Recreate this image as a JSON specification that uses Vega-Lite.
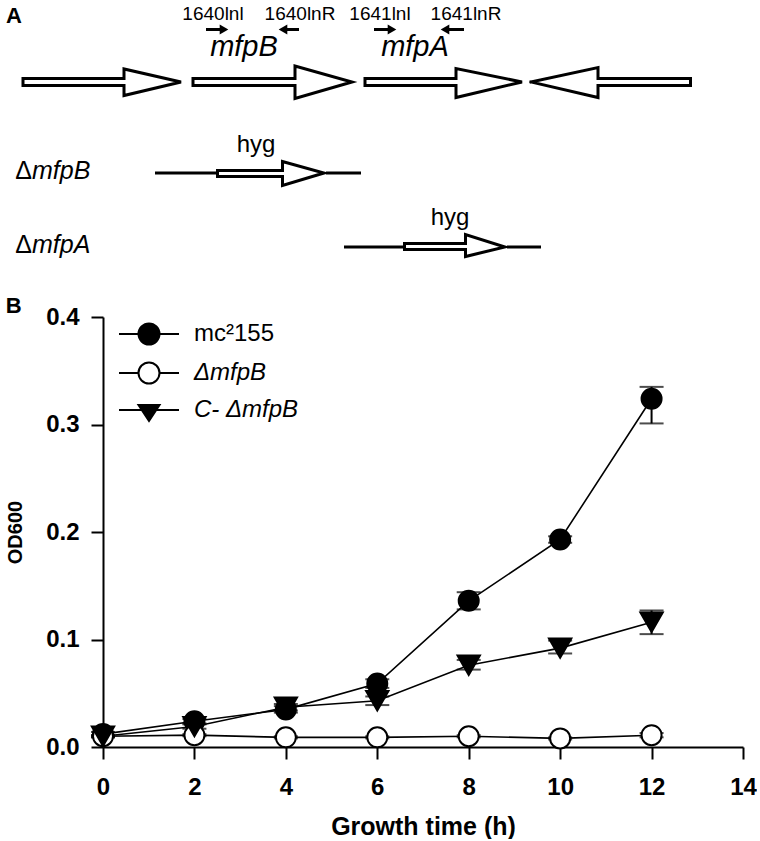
{
  "$schema": "https://vega.github.io/schema/vega-lite/v6.json",
  "padding": {"left": 5, "top": 0, "right": 0, "bottom": 0},
  "spacing": 15,
  "background": "white",
  "datasets": {
    "genes": [
      {"gene": "g1", "o": 1, "x": 200, "y": 7.85}, {"gene": "g1", "o": 2, "x": 1210, "y": 7.85}, {"gene": "g1", "o": 3, "x": 1210, "y": 6.9}, {"gene": "g1", "o": 4, "x": 1780, "y": 8.2}, {"gene": "g1", "o": 5, "x": 1210, "y": 9.55}, {"gene": "g1", "o": 6, "x": 1210, "y": 8.55}, {"gene": "g1", "o": 7, "x": 200, "y": 8.55}, {"gene": "g1", "o": 8, "x": 200, "y": 7.85},
      {"gene": "mfpB", "o": 1, "x": 1900, "y": 7.85}, {"gene": "mfpB", "o": 2, "x": 2920, "y": 7.85}, {"gene": "mfpB", "o": 3, "x": 2920, "y": 6.6}, {"gene": "mfpB", "o": 4, "x": 3490, "y": 8.2}, {"gene": "mfpB", "o": 5, "x": 2920, "y": 9.85}, {"gene": "mfpB", "o": 6, "x": 2920, "y": 8.55}, {"gene": "mfpB", "o": 7, "x": 1900, "y": 8.55}, {"gene": "mfpB", "o": 8, "x": 1900, "y": 7.85},
      {"gene": "mfpA", "o": 1, "x": 3620, "y": 7.85}, {"gene": "mfpA", "o": 2, "x": 4530, "y": 7.85}, {"gene": "mfpA", "o": 3, "x": 4530, "y": 6.85}, {"gene": "mfpA", "o": 4, "x": 5190, "y": 8.2}, {"gene": "mfpA", "o": 5, "x": 4530, "y": 9.75}, {"gene": "mfpA", "o": 6, "x": 4530, "y": 8.55}, {"gene": "mfpA", "o": 7, "x": 3620, "y": 8.55}, {"gene": "mfpA", "o": 8, "x": 3620, "y": 7.85},
      {"gene": "g4", "o": 1, "x": 5280, "y": 8.2}, {"gene": "g4", "o": 2, "x": 5950, "y": 6.75}, {"gene": "g4", "o": 3, "x": 5950, "y": 7.85}, {"gene": "g4", "o": 4, "x": 6875, "y": 7.85}, {"gene": "g4", "o": 5, "x": 6875, "y": 8.55}, {"gene": "g4", "o": 6, "x": 5950, "y": 8.55}, {"gene": "g4", "o": 7, "x": 5950, "y": 9.75}, {"gene": "g4", "o": 8, "x": 5280, "y": 8.2},
      {"gene": "hygB", "o": 1, "x": 2145, "y": 17.05}, {"gene": "hygB", "o": 2, "x": 2795, "y": 17.05}, {"gene": "hygB", "o": 3, "x": 2795, "y": 16.15}, {"gene": "hygB", "o": 4, "x": 3210, "y": 17.3}, {"gene": "hygB", "o": 5, "x": 2795, "y": 18.55}, {"gene": "hygB", "o": 6, "x": 2795, "y": 17.65}, {"gene": "hygB", "o": 7, "x": 2145, "y": 17.65}, {"gene": "hygB", "o": 8, "x": 2145, "y": 17.05},
      {"gene": "hygA", "o": 1, "x": 4015, "y": 24.35}, {"gene": "hygA", "o": 2, "x": 4625, "y": 24.35}, {"gene": "hygA", "o": 3, "x": 4625, "y": 23.45}, {"gene": "hygA", "o": 4, "x": 5020, "y": 24.7}, {"gene": "hygA", "o": 5, "x": 4625, "y": 25.65}, {"gene": "hygA", "o": 6, "x": 4625, "y": 24.95}, {"gene": "hygA", "o": 7, "x": 4015, "y": 24.95}, {"gene": "hygA", "o": 8, "x": 4015, "y": 24.35}
    ],
    "flanks": [
      {"x": 1520, "x2": 2130, "y": 17.3},
      {"x": 3230, "x2": 3580, "y": 17.3},
      {"x": 3410, "x2": 4000, "y": 24.7},
      {"x": 5040, "x2": 5380, "y": 24.7}
    ],
    "primers": [
      {"name": "1640lnl", "tail": 2030, "head": 2210, "dir": "forward", "y": 2.95},
      {"name": "1640lnR", "tail": 2960, "head": 2800, "dir": "reverse", "y": 2.95},
      {"name": "1641lnl", "tail": 3710, "head": 3890, "dir": "forward", "y": 2.95},
      {"name": "1641lnR", "tail": 4610, "head": 4420, "dir": "reverse", "y": 2.95}
    ],
    "labels": [
      {"kind": "panel", "text": "A", "x": 30, "y": 2.3},
      {"kind": "primer", "text": "1640lnl", "x": 2100, "y": 2.0},
      {"kind": "primer", "text": "1640lnR", "x": 2970, "y": 2.0},
      {"kind": "primer", "text": "1641lnl", "x": 3770, "y": 2.0},
      {"kind": "primer", "text": "1641lnR", "x": 4630, "y": 2.0},
      {"kind": "gene", "text": "mfpB", "x": 2410, "y": 5.55},
      {"kind": "gene", "text": "mfpA", "x": 4120, "y": 5.55},
      {"kind": "hyg", "text": "hyg", "x": 2530, "y": 15.2},
      {"kind": "hyg", "text": "hyg", "x": 4470, "y": 22.5},
      {"kind": "delta", "text": "Δ", "x": 290, "y": 17.9},
      {"kind": "delta", "text": "Δ", "x": 290, "y": 25.3},
      {"kind": "mutant", "text": "mfpB", "x": 290, "y": 17.9},
      {"kind": "mutant", "text": "mfpA", "x": 290, "y": 25.3}
    ],
    "growth": [
      {"series": "mc²155", "t": 0, "od": 0.012, "lo": 0.010, "hi": 0.014},
      {"series": "mc²155", "t": 2, "od": 0.024, "lo": 0.022, "hi": 0.026},
      {"series": "mc²155", "t": 4, "od": 0.035, "lo": 0.032, "hi": 0.038},
      {"series": "mc²155", "t": 6, "od": 0.059, "lo": 0.055, "hi": 0.063},
      {"series": "mc²155", "t": 8, "od": 0.136, "lo": 0.128, "hi": 0.144},
      {"series": "mc²155", "t": 10, "od": 0.193, "lo": 0.190, "hi": 0.196},
      {"series": "mc²155", "t": 12, "od": 0.324, "lo": 0.301, "hi": 0.335},
      {"series": "ΔmfpB", "t": 0, "od": 0.010, "lo": 0.009, "hi": 0.011},
      {"series": "ΔmfpB", "t": 2, "od": 0.011, "lo": 0.010, "hi": 0.012},
      {"series": "ΔmfpB", "t": 4, "od": 0.009, "lo": 0.008, "hi": 0.010},
      {"series": "ΔmfpB", "t": 6, "od": 0.009, "lo": 0.008, "hi": 0.010},
      {"series": "ΔmfpB", "t": 8, "od": 0.010, "lo": 0.009, "hi": 0.011},
      {"series": "ΔmfpB", "t": 10, "od": 0.008, "lo": 0.007, "hi": 0.009},
      {"series": "ΔmfpB", "t": 12, "od": 0.011, "lo": 0.009, "hi": 0.013},
      {"series": "C- ΔmfpB", "t": 0, "od": 0.010, "lo": 0.009, "hi": 0.011},
      {"series": "C- ΔmfpB", "t": 2, "od": 0.019, "lo": 0.017, "hi": 0.021},
      {"series": "C- ΔmfpB", "t": 4, "od": 0.037, "lo": 0.034, "hi": 0.040},
      {"series": "C- ΔmfpB", "t": 6, "od": 0.043, "lo": 0.039, "hi": 0.047},
      {"series": "C- ΔmfpB", "t": 8, "od": 0.076, "lo": 0.072, "hi": 0.081},
      {"series": "C- ΔmfpB", "t": 10, "od": 0.092, "lo": 0.087, "hi": 0.099},
      {"series": "C- ΔmfpB", "t": 12, "od": 0.116, "lo": 0.105, "hi": 0.127}
    ]
  },
  "vconcat": [
    {
      "width": 640,
      "height": 280,
      "layer": [
        {
          "data": {"name": "genes"},
          "mark": {"type": "line", "color": "black", "strokeWidth": 3, "strokeJoin": "miter", "strokeCap": "square"},
          "encoding": {
            "x": {"field": "x", "type": "quantitative", "scale": {"domain": [1000, 7400], "nice": false, "zero": false}, "axis": null},
            "y": {"field": "y", "type": "quantitative", "scale": {"domain": [0, 28], "nice": false, "zero": false, "reverse": true}, "axis": null},
            "detail": {"field": "gene"},
            "order": {"field": "o", "type": "quantitative"}
          }
        },
        {
          "data": {"name": "flanks"},
          "mark": {"type": "rule", "color": "black", "strokeWidth": 3},
          "encoding": {
            "x": {"field": "x", "type": "quantitative", "scale": {"domain": [1000, 7400], "nice": false, "zero": false}, "axis": null},
            "x2": {"field": "x2"},
            "y": {"field": "y", "type": "quantitative", "scale": {"domain": [0, 28], "nice": false, "zero": false, "reverse": true}, "axis": null}
          }
        },
        {
          "data": {"name": "primers"},
          "mark": {"type": "rule", "color": "black", "strokeWidth": 3},
          "encoding": {
            "x": {"field": "tail", "type": "quantitative", "scale": {"domain": [1000, 7400], "nice": false, "zero": false}, "axis": null},
            "x2": {"field": "head"},
            "y": {"field": "y", "type": "quantitative", "scale": {"domain": [0, 28], "nice": false, "zero": false, "reverse": true}, "axis": null}
          }
        },
        {
          "data": {"name": "primers"},
          "mark": {"type": "point", "filled": true, "color": "black", "opacity": 1, "size": 100},
          "encoding": {
            "x": {"field": "head", "type": "quantitative", "scale": {"domain": [1000, 7400], "nice": false, "zero": false}, "axis": null},
            "y": {"field": "y", "type": "quantitative", "scale": {"domain": [0, 28], "nice": false, "zero": false, "reverse": true}, "axis": null},
            "shape": {"field": "dir", "type": "nominal", "scale": {"domain": ["forward", "reverse"], "range": ["triangle-right", "triangle-left"]}, "legend": null}
          }
        },
        {
          "data": {"name": "labels"},
          "transform": [{"filter": "datum.kind === 'panel'"}],
          "mark": {"type": "text", "font": "Liberation Sans", "fontSize": 22, "fontWeight": "bold", "align": "left", "baseline": "alphabetic", "color": "black"},
          "encoding": {
            "x": {"field": "x", "type": "quantitative", "scale": {"domain": [1000, 7400], "nice": false, "zero": false}, "axis": null},
            "y": {"field": "y", "type": "quantitative", "scale": {"domain": [0, 28], "nice": false, "zero": false, "reverse": true}, "axis": null},
            "text": {"field": "text"}
          }
        },
        {
          "data": {"name": "labels"},
          "transform": [{"filter": "datum.kind === 'primer'"}],
          "mark": {"type": "text", "font": "Liberation Sans", "fontSize": 19, "align": "center", "baseline": "alphabetic", "color": "black"},
          "encoding": {
            "x": {"field": "x", "type": "quantitative", "scale": {"domain": [1000, 7400], "nice": false, "zero": false}, "axis": null},
            "y": {"field": "y", "type": "quantitative", "scale": {"domain": [0, 28], "nice": false, "zero": false, "reverse": true}, "axis": null},
            "text": {"field": "text"}
          }
        },
        {
          "data": {"name": "labels"},
          "transform": [{"filter": "datum.kind === 'gene'"}],
          "mark": {"type": "text", "font": "Liberation Sans", "fontSize": 29, "fontStyle": "italic", "align": "center", "baseline": "alphabetic", "color": "black"},
          "encoding": {
            "x": {"field": "x", "type": "quantitative", "scale": {"domain": [1000, 7400], "nice": false, "zero": false}, "axis": null},
            "y": {"field": "y", "type": "quantitative", "scale": {"domain": [0, 28], "nice": false, "zero": false, "reverse": true}, "axis": null},
            "text": {"field": "text"}
          }
        },
        {
          "data": {"name": "labels"},
          "transform": [{"filter": "datum.kind === 'hyg'"}],
          "mark": {"type": "text", "font": "Liberation Sans", "fontSize": 24, "align": "center", "baseline": "alphabetic", "color": "black"},
          "encoding": {
            "x": {"field": "x", "type": "quantitative", "scale": {"domain": [1000, 7400], "nice": false, "zero": false}, "axis": null},
            "y": {"field": "y", "type": "quantitative", "scale": {"domain": [0, 28], "nice": false, "zero": false, "reverse": true}, "axis": null},
            "text": {"field": "text"}
          }
        },
        {
          "data": {"name": "labels"},
          "transform": [{"filter": "datum.kind === 'delta'"}],
          "mark": {"type": "text", "font": "Liberation Sans", "fontSize": 25, "align": "right", "baseline": "alphabetic", "color": "black"},
          "encoding": {
            "x": {"field": "x", "type": "quantitative", "scale": {"domain": [1000, 7400], "nice": false, "zero": false}, "axis": null},
            "y": {"field": "y", "type": "quantitative", "scale": {"domain": [0, 28], "nice": false, "zero": false, "reverse": true}, "axis": null},
            "text": {"field": "text"}
          }
        },
        {
          "data": {"name": "labels"},
          "transform": [{"filter": "datum.kind === 'mutant'"}],
          "mark": {"type": "text", "font": "Liberation Sans", "fontSize": 25, "fontStyle": "italic", "align": "left", "baseline": "alphabetic", "color": "black"},
          "encoding": {
            "x": {"field": "x", "type": "quantitative", "scale": {"domain": [1000, 7400], "nice": false, "zero": false}, "axis": null},
            "y": {"field": "y", "type": "quantitative", "scale": {"domain": [0, 28], "nice": false, "zero": false, "reverse": true}, "axis": null},
            "text": {"field": "text"}
          }
        }
      ]
    },
    {
      "width": 640,
      "height": 430,
      "title": {"text": "B", "anchor": "start", "frame": "bounds", "font": "Liberation Sans", "fontSize": 22, "fontWeight": "bold", "color": "black", "offset": -13},
      "data": {"name": "growth"},
      "layer": [
        {
          "mark": {"type": "errorbar", "ticks": true, "size": 24, "thickness": 2, "color": "black"},
          "encoding": {
            "x": {"field": "t", "type": "quantitative", "title": "Growth time (h)", "scale": {"domain": [0, 14], "nice": false}, "axis": {"values": [0, 2, 4, 6, 8, 10, 12, 14], "titleFontSize": 25, "titlePadding": 15, "labelPadding": 16, "labelFlush": false}},
            "y": {"field": "lo", "type": "quantitative", "title": "OD600", "scale": {"domain": [0, 0.4], "nice": false}, "axis": {"values": [0, 0.1, 0.2, 0.3, 0.4], "format": ".1f", "titleFontSize": 20, "titlePadding": 20, "labelFlush": false}},
            "y2": {"field": "hi"}
          }
        },
        {
          "mark": {"type": "line", "color": "black", "strokeWidth": 1.6},
          "encoding": {
            "x": {"field": "t", "type": "quantitative", "title": "Growth time (h)"},
            "y": {"field": "od", "type": "quantitative", "title": "OD600"},
            "detail": {"field": "series"}
          }
        },
        {
          "mark": {"type": "point", "filled": true, "stroke": "black", "strokeWidth": 2, "opacity": 1},
          "encoding": {
            "x": {"field": "t", "type": "quantitative", "title": "Growth time (h)"},
            "y": {"field": "od", "type": "quantitative", "title": "OD600"},
            "shape": {"condition": {"test": "datum.series === 'C- ΔmfpB'", "value": "triangle-down"}, "value": "circle"},
            "fill": {"condition": {"test": "datum.series === 'ΔmfpB'", "value": "white"}, "value": "black"},
            "size": {"condition": {"test": "datum.series === 'C- ΔmfpB'", "value": 500}, "value": 400}
          }
        },
        {
          "transform": [{"filter": "false"}],
          "mark": {"type": "point", "filled": true, "size": 576, "stroke": "black", "strokeWidth": 2, "opacity": 1},
          "encoding": {
            "fill": {
              "field": "series", "type": "nominal",
              "scale": {"domain": ["mc²155", "ΔmfpB", "C- ΔmfpB"], "range": ["black", "white", "black"]},
              "legend": {"title": null, "orient": "none", "legendX": 33, "legendY": 321, "padding": 0, "rowPadding": 9, "labelOffset": 32, "labelFont": "Liberation Sans", "labelFontSize": 24, "labelColor": "black", "labelLimit": 300, "labelFontStyle": {"expr": "datum.label === 'mc²155' ? 'normal' : 'italic'"}, "symbolType": {"expr": "datum.label === 'C- ΔmfpB' ? 'M-2.5,0H2.5M-0.875,-0.42H0.875L0,0.92Z' : 'M-2.5,0H-0.875M0.875,0H2.5M0.875,0A0.875,0.875,0,1,1,-0.875,0A0.875,0.875,0,1,1,0.875,0Z'"}, "symbolStrokeColor": "black", "symbolStrokeWidth": 2, "symbolSize": 576, "symbolOpacity": 1}
            }
          }
        }
      ]
    }
  ],
  "config": {
    "font": "Liberation Sans",
    "view": {"stroke": null},
    "axis": {
      "grid": false,
      "domainColor": "black",
      "domainWidth": 2,
      "tickColor": "black",
      "tickWidth": 2,
      "tickSize": 12,
      "labelFont": "Liberation Sans",
      "labelFontSize": 24,
      "labelFontWeight": "bold",
      "labelColor": "black",
      "labelPadding": 12,
      "titleFont": "Liberation Sans",
      "titleFontWeight": "bold",
      "titleColor": "black"
    }
  }
}
